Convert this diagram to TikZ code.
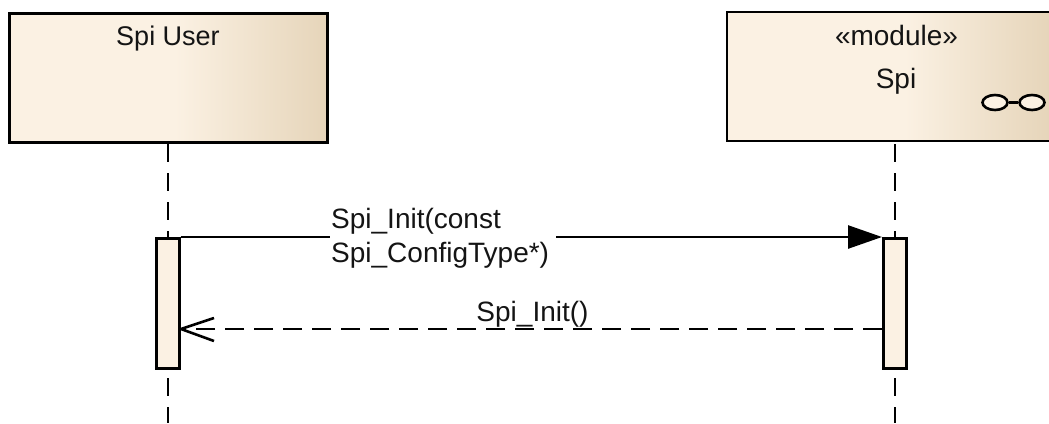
\documentclass[tikz,border=0pt]{standalone}
\usepackage{fontspec}
\setmainfont{Liberation Sans}
\usetikzlibrary{arrows.meta,shapes.geometric}
\definecolor{boxlight}{HTML}{FBF1E3}
\definecolor{boxdark}{HTML}{E6D5BA}
\definecolor{actfill}{HTML}{FBF1E3}
\tikzset{
  x=1pt,y=-1pt,
  lbl/.style={font=\fontsize{28}{32}\selectfont,inner sep=0pt,text=black!92,anchor=base},
  lifebox/.style={draw=black,line width=2.6pt},
  lifeline/.style={draw=black,line width=2.6pt,dash pattern=on 18pt off 11pt},
  act/.style={draw=black,line width=2.6pt,fill=actfill,minimum width=23pt,minimum height=130pt,anchor=north west,inner sep=0pt},
  msg/.style={draw=black,line width=2.6pt},
  iconring/.style={draw=black,line width=2.6pt,ellipse,fill=boxlight,minimum width=25pt,minimum height=15pt,inner sep=0pt},
}
\begin{document}
\begin{tikzpicture}
\useasboundingbox (0,0) rectangle (1049,423);
% lifelines
\coordinate (l1top) at (168,144);
\coordinate (l1a) at (168,237);
\coordinate (l1b) at (168,378);
\coordinate (l1end) at (168,423);
\coordinate (l2top) at (895,144);
\coordinate (l2a) at (895,237);
\coordinate (l2b) at (895,378);
\coordinate (l2end) at (895,423);
\draw[lifeline] (l1top) -- (l1a);
\draw[lifeline] (l1b) -- (l1end);
\draw[lifeline] (l2top) -- (l2a);
\draw[lifeline] (l2b) -- (l2end);
% head boxes
\fill[boxlight] (8,12) rectangle (175,141);
\path[left color=boxlight,right color=boxdark] (175,12) rectangle (326,141);
\node[lifebox,minimum width=318pt,minimum height=129pt,anchor=north west,inner sep=0pt] (user) at (8,12) {};
\fill[boxlight] (727,12) rectangle (905,141);
\path[left color=boxlight,right color=boxdark] (905,12) rectangle (1049,141);
\draw[lifebox] (1051,12) -- (727,12) -- (727,141) -- (1051,141);
\node[lbl,font=\fontsize{27}{32}\selectfont] (usertxt) at (168,45) {Spi User};
\node[lbl] (modtxt) at (896.5,45) {«module»};
\node[lbl] (spitxt) at (896,88) {Spi};
% composite icon
\node[iconring] (ic1) at (995,102.5) {};
\node[iconring] (ic2) at (1032,102.5) {};
\draw[msg] (ic1) -- (ic2);
% activations
\node[act] (a1) at (155,237) {};
\node[act] (a2) at (882,237) {};
% messages
\coordinate (m1s) at (a1.north east);
\coordinate (m1e) at (a2.north west);
\draw[msg,-{Triangle[length=34pt,width=23pt]}] (m1s) -- (m1e);
\fill[white] (330,215) rectangle (556,270);
\node[lbl,anchor=base west] (m1txt) at (331,228) {Spi\_Init(const};
\node[lbl,anchor=base west] (m1txtb) at (331,262) {Spi\_ConfigType*)};
\coordinate (m2s) at (882,329);
\coordinate (m2e) at (181,329);
\draw[msg,dash pattern=on 19pt off 10pt] (m2s) -- (m2e);
\draw[msg,line join=round] (214,318) -- (m2e) -- (214,341);
\node[lbl] (m2txt) at (532.5,321) {Spi\_Init()};
\end{tikzpicture}
\end{document}
